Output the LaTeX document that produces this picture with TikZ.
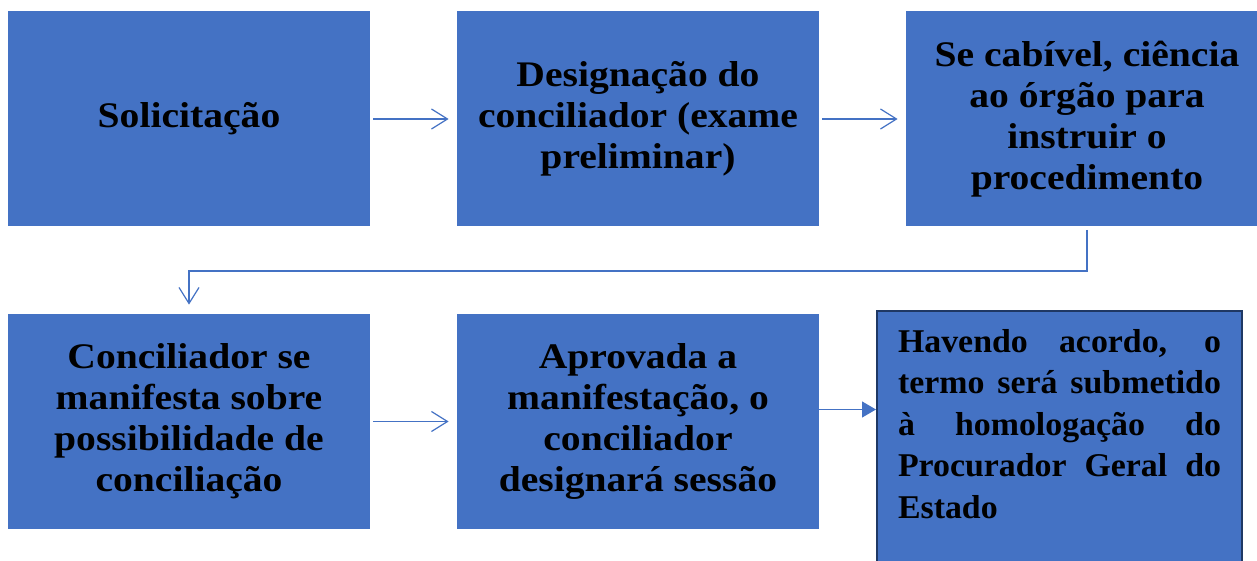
\documentclass[tikz,border=0pt]{standalone}
\usepackage{fontspec}
\setmainfont{Liberation Serif}[FakeStretch=1.1]
\newfontfamily\lastfont{Liberation Serif}[FakeStretch=1.02]
\usetikzlibrary{arrows.meta,positioning}

\definecolor{boxblue}{HTML}{4472C4}
\definecolor{boxedge}{HTML}{1F3864}

\tikzset{
	stepbox/.style={fill=boxblue, minimum width=181pt, minimum height=107.5pt,
		align=center, font=\fontsize{18}{20.5}\selectfont\bfseries, inner sep=0pt},
	lastbox/.style={fill=boxblue, draw=boxedge, line width=1pt, anchor=north west,
		text width=161.5pt, align=justify, inner xsep=10.5pt, inner ysep=9pt,
		font=\lastfont\fontsize{16.6}{20.75}\selectfont\bfseries},
	link/.style={draw=boxblue, line width=0.6pt, -{Straight Barb[length=8pt,width=10pt]}},
	linkfill/.style={draw=boxblue, line width=0.6pt, -{Triangle[length=7pt,width=8pt]}}
}

\begin{document}
\begin{tikzpicture}[x=0.5pt,y=-0.5pt]
\useasboundingbox (0,0) rectangle (1257,561);
%\draw [help lines] (0,0) grid (1257,561);

%top row
\node [stepbox] (sol) at (189,119) {Solicita\c{c}\~ao};
\node [stepbox] (desig) at (638,119) {Designa\c{c}\~ao do\\conciliador (exame\\preliminar)};
\node [stepbox] (cien) at (1087,119) {Se cab\'ivel, ci\^encia\\ao \'org\~ao para\\instruir o\\procedimento};

%bottom row
\node [stepbox] (concil) at (189,421.5) {Conciliador se\\manifesta sobre\\possibilidade de\\concilia\c{c}\~ao};
\node [stepbox] (aprov) at (638,421.5) {Aprovada a\\manifesta\c{c}\~ao, o\\conciliador\\designar\'a sess\~ao};
\node [lastbox] (homol) at (876,310) {Havendo acordo, o\linebreak
	termo ser\'a submetido\linebreak
	\`a homologa\c{c}\~ao do\linebreak
	Procurador Geral do\linebreak
	Estado\par\vspace*{40pt}\null};

%arrows
\foreach \a/\b in {sol/desig,desig/cien,concil/aprov}{
	\draw [link, shorten <=1.5pt, shorten >=4pt] (\a.east) -- (\b.west);
}
\draw [link, shorten <=1.5pt, shorten >=4.5pt] (cien.south) -- ++(0,44) -| (concil.north);
\draw [linkfill] ([yshift=6pt]aprov.east) -- ([yshift=6pt]aprov.east -| homol.west);
\end{tikzpicture}
\end{document}
